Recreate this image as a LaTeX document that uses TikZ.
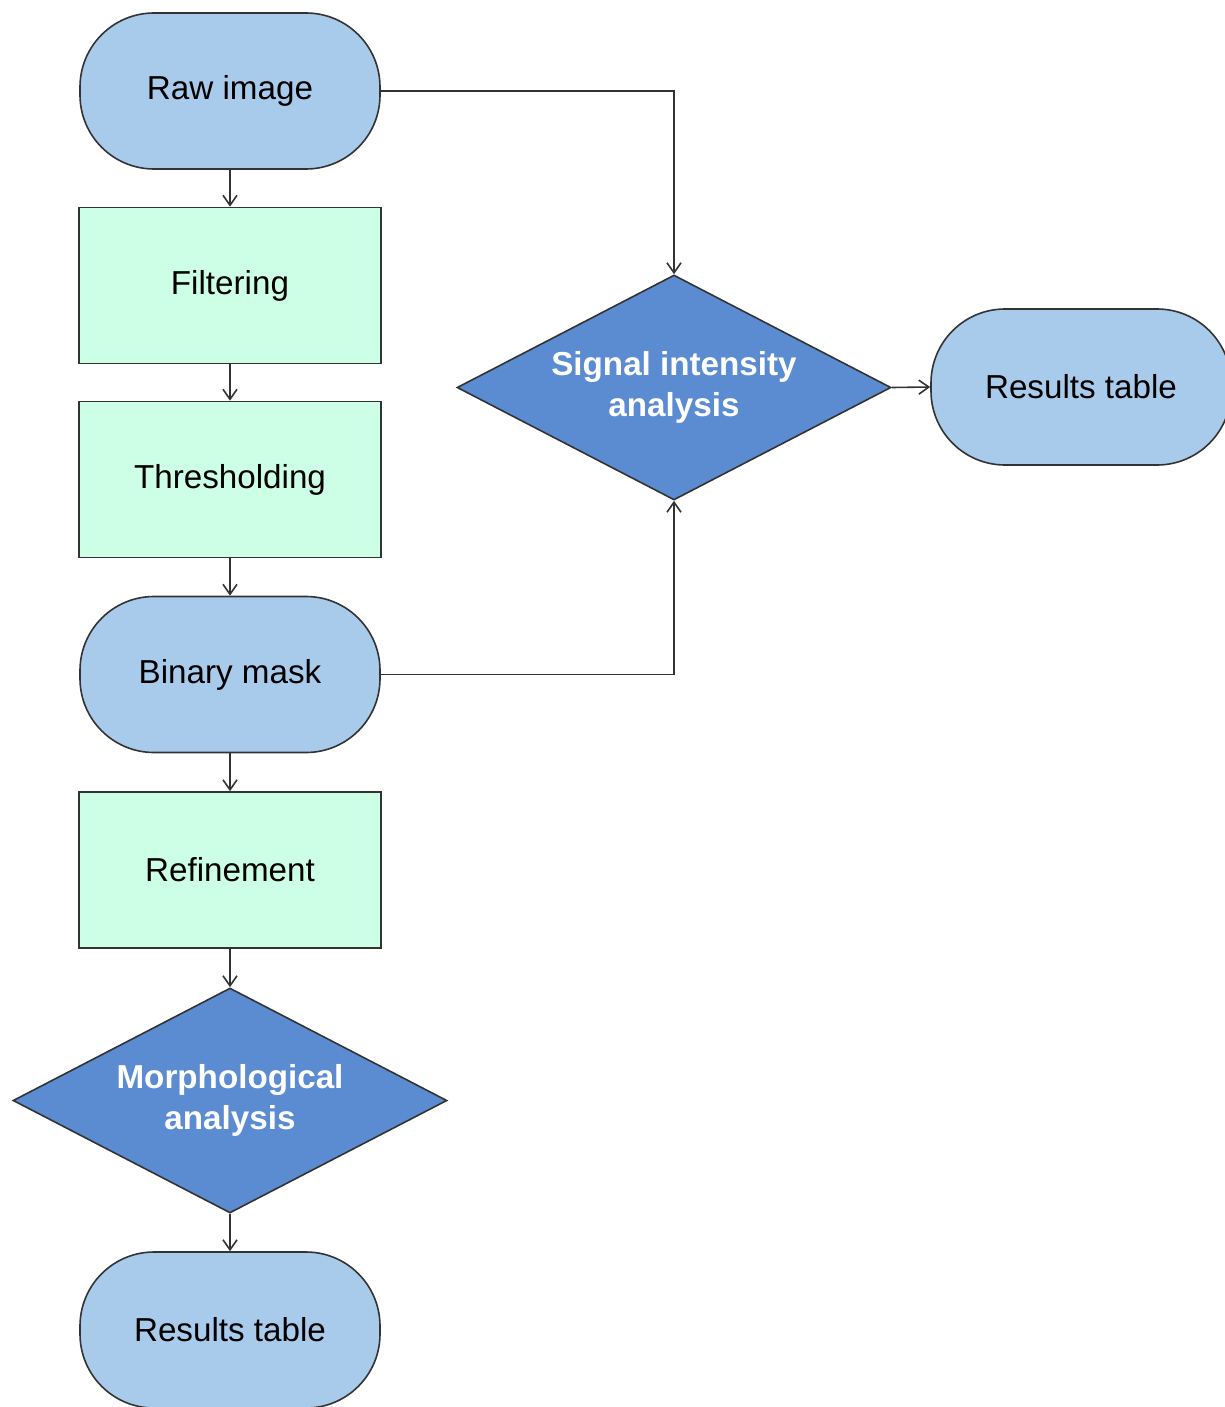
\documentclass[tikz,border=0pt]{standalone}
\usepackage{fontspec}
\setmainfont{Liberation Sans}
\usetikzlibrary{shapes.geometric,arrows.meta}
\definecolor{termfill}{HTML}{A8CBEC}
\definecolor{procfill}{HTML}{CCFFE6}
\definecolor{decfill}{HTML}{5B8BD0}
\definecolor{edgecol}{HTML}{333333}
\begin{document}
\begin{tikzpicture}[x=0.5pt,y=-0.5pt,
  base/.style={draw=edgecol,line width=0.8pt,inner sep=0pt,align=center,font=\fontsize{16.6}{20.5}\selectfont},
  termbox/.style={base,rectangle,rounded corners=37pt,fill=termfill,minimum width=150pt,minimum height=78pt},
  procbox/.style={base,rectangle,fill=procfill,minimum width=151pt,minimum height=78pt},
  decbox/.style={base,diamond,aspect=1.93,fill=decfill,text=white,font=\fontsize{16.6}{20.5}\selectfont\bfseries,minimum width=217pt,minimum height=112.5pt},
  conn/.style={draw=edgecol,line width=0.8pt,-{Straight Barb[length=5pt,width=7pt]}}]
\useasboundingbox (0,0) rectangle (1225,1407);
\node[termbox] (raw) at (230,91) {Raw image};
\node[procbox] (filt) at (230,285.5) {Filtering};
\node[procbox] (thr) at (230,479.5) {Thresholding};
\node[termbox] (bin) at (230,674.5) {Binary mask};
\node[procbox] (ref) at (230,870) {Refinement};
\node[decbox] (morph) at (230,1100.5) {Morphological\\analysis};
\node[termbox] (res1) at (230,1330) {Results table};
\node[decbox] (sig) at (674,387.5) {Signal intensity\\analysis};
\node[termbox] (res2) at (1081,387) {Results table};
\draw[conn] (raw) -- (filt);
\draw[conn] (filt) -- (thr);
\draw[conn] (thr) -- (bin);
\draw[conn] (bin) -- (ref);
\draw[conn] (ref) -- (morph);
\draw[conn] (morph) -- (res1);
\draw[conn] (raw.east) -| (sig.north);
\draw[conn] (bin.east) -| (sig.south);
\draw[conn] (sig.east) -- (res2.west);
\end{tikzpicture}
\end{document}
